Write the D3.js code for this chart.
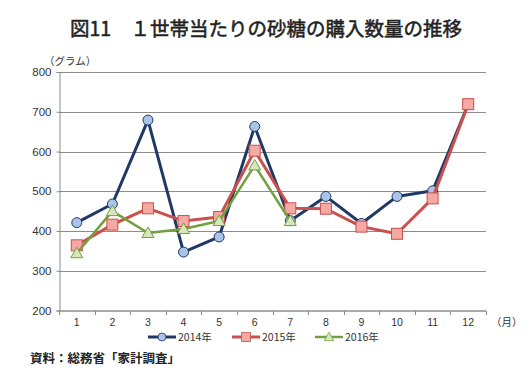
<!DOCTYPE html>
<html>
<head>
<meta charset="utf-8">
<script src="https://cdn.jsdelivr.net/npm/d3@7"></script>
<style>
  body { margin: 0; background: #fff; }
  text { font-family: "Noto Sans CJK JP", "Noto Sans", sans-serif; }
</style>
</head>
<body>
<svg id="chart" width="532" height="386"></svg>
<script>
// data
var months = ['1', '2', '3', '4', '5', '6', '7', '8', '9', '10', '11', '12'];
var y2014 = [421, 468, 679, 347, 385, 663, 426, 487, 419, 487, 501, 719];
var y2015 = [364, 416, 457, 425, 435, 602, 457, 456, 411, 393, 482, 719];
var y2016 = [344, 450, 395, 405, 425, 565, 425];
var yTicks = [200, 300, 400, 500, 600, 700, 800];

var series = [
    { name: '2014年', values: y2014, line: '#203864', fill: '#a9c4e8', shape: 'circle', width: 3 },
    { name: '2015年', values: y2015, line: '#c9504c', fill: '#f4aaa3', shape: 'square', width: 3 },
    { name: '2016年', values: y2016, line: '#72a03e', fill: '#d8e6bd', shape: 'triangle', width: 2.5 }
];

var svg = d3.select('#chart');
var plotLeft = 59, plotRight = 486, plotTop = 72, plotBottom = 310.5;

var x = d3.scaleBand().domain(months).range([plotLeft, plotRight]);
var y = d3.scaleLinear().domain([200, 800]).range([plotBottom, plotTop]);

// title
svg.append('text')
    .attr('x', 266).attr('y', 36)
    .attr('text-anchor', 'middle')
    .style('font-size', '19.5px')
    .attr('fill', '#222')
    .attr('stroke', '#222')
    .attr('stroke-width', 0.5)
    .text('図11　１世帯当たりの砂糖の購入数量の推移');

svg.append('text')
    .attr('x', 44).attr('y', 65)
    .style('font-size', '10.5px')
    .attr('fill', '#333')
    .text('（グラム）');

// grid
svg.append('g').selectAll('line')
    .data(yTicks.slice(1))
    .enter().append('line')
    .attr('x1', plotLeft).attr('x2', plotRight)
    .attr('y1', function (d) { return Math.round(y(d)) + 0.5; })
    .attr('y2', function (d) { return Math.round(y(d)) + 0.5; })
    .attr('stroke', '#8c8c8c').attr('stroke-width', 1);

// y axis
var yAxis = svg.append('g')
    .attr('transform', 'translate(' + (plotLeft + 0.5) + ',0)')
    .call(d3.axisLeft(y).tickValues(yTicks).tickSize(3).tickPadding(5));
yAxis.select('.domain').attr('stroke', '#8c8c8c');
yAxis.selectAll('.tick line').attr('stroke', '#8c8c8c');
yAxis.selectAll('text').style('font-size', '11.5px').attr('fill', '#333')
    .style('font-family', '"Liberation Sans", Arial, sans-serif');

// x axis, ticks at band edges
var xAxis = svg.append('g')
    .attr('transform', 'translate(0,' + (plotBottom + 0.5) + ')');
xAxis.append('line')
    .attr('x1', plotLeft).attr('x2', plotRight)
    .attr('stroke', '#8c8c8c').attr('stroke-width', 1.5);
xAxis.selectAll('.edge')
    .data(months.concat(['end']))
    .enter().append('line')
    .attr('class', 'edge')
    .attr('x1', function (d, i) { return Math.round(plotLeft + i * x.bandwidth()) + 0.5; })
    .attr('x2', function (d, i) { return Math.round(plotLeft + i * x.bandwidth()) + 0.5; })
    .attr('y1', 0).attr('y2', 4)
    .attr('stroke', '#8c8c8c');
xAxis.selectAll('.lbl')
    .data(months)
    .enter().append('text')
    .attr('class', 'lbl')
    .attr('x', function (d) { return x(d) + x.bandwidth() / 2; })
    .attr('y', 15)
    .attr('text-anchor', 'middle')
    .style('font-size', '10.5px')
    .style('font-family', '"Liberation Sans", Arial, sans-serif')
    .attr('fill', '#333')
    .text(String);
xAxis.append('text')
    .attr('x', 491).attr('y', 15)
    .style('font-size', '10.5px')
    .attr('fill', '#333')
    .text('（月）');

var line = d3.line()
    .x(function (d, i) { return x(months[i]) + x.bandwidth() / 2; })
    .y(function (d) { return y(d); });

function marker(g, s) {
    if (s.shape === 'circle') {
        g.append('circle').attr('r', 5);
    } else if (s.shape === 'square') {
        g.append('rect').attr('x', -5.5).attr('y', -5.5).attr('width', 11).attr('height', 11);
    } else {
        g.append('path').attr('d', 'M0,-6L6,4.5L-6,4.5Z');
    }
    g.selectAll('*').attr('fill', s.fill).attr('stroke', s.line).attr('stroke-width', 1);
}

series.forEach(function (s) {
    var g = svg.append('g');
    g.append('path')
        .attr('d', line(s.values))
        .attr('fill', 'none')
        .attr('stroke', s.line)
        .attr('stroke-width', s.width)
        .attr('stroke-linejoin', 'round');
    g.selectAll('.m')
        .data(s.values)
        .enter().append('g')
        .attr('class', 'm')
        .attr('transform', function (d, i) {
            return 'translate(' + (x(months[i]) + x.bandwidth() / 2) + ',' + y(d) + ')';
        })
        .each(function () { marker(d3.select(this), s); });
});

// legend
var legendX = [148, 232, 315];
series.forEach(function (s, i) {
    var g = svg.append('g').attr('transform', 'translate(' + legendX[i] + ',337)');
    g.append('line').attr('x1', 0).attr('x2', 28)
        .attr('stroke', s.line).attr('stroke-width', s.width);
    var m = g.append('g').attr('transform', 'translate(14,0) scale(0.8)');
    marker(m, s);
    g.append('text')
        .attr('x', 30).attr('y', 3.5)
        .style('font-size', '10.5px')
        .attr('fill', '#333')
        .text(s.name);
});

svg.append('text')
    .attr('x', 30).attr('y', 363)
    .style('font-size', '12.5px')
    .style('font-weight', 'bold')
    .attr('fill', '#222')
    .text('資料：総務省「家計調査」');
</script>
</body>
</html>
